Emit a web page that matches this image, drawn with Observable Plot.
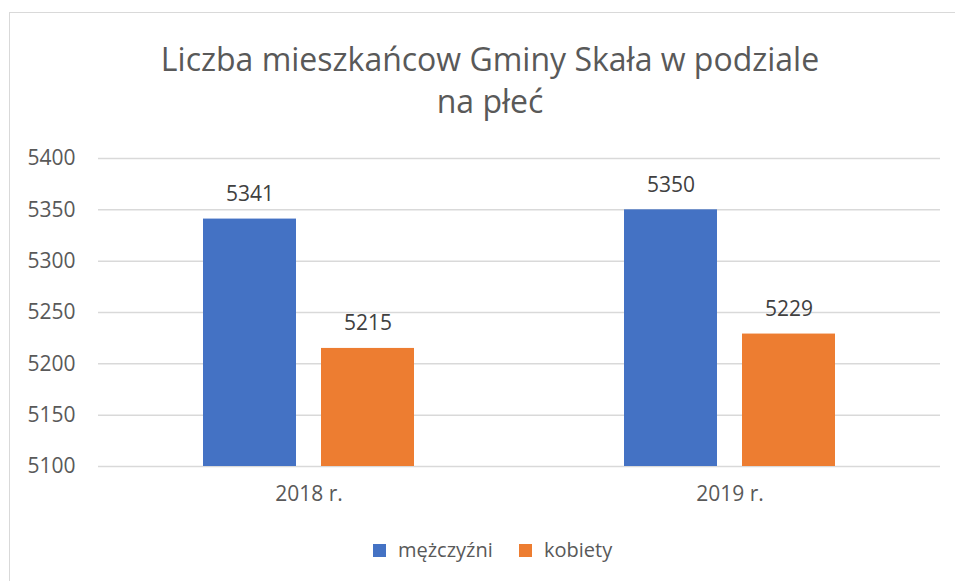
<!DOCTYPE html>
<html><head><meta charset="utf-8">
<script src="https://cdn.jsdelivr.net/npm/d3@7"></script>
<script src="https://cdn.jsdelivr.net/npm/@observablehq/plot@0.6"></script>
<style>
body{margin:0;background:#fff;font-family:"Open Sans",sans-serif;}
#wrap{position:relative;width:955px;height:581px;overflow:hidden;background:#fff;}
#frame{position:absolute;left:9px;top:12px;width:1000px;height:1000px;border:1px solid #d9d9d9;box-sizing:border-box;}
#title{position:absolute;left:0;width:980px;top:38px;text-align:center;font-size:32px;line-height:42px;color:#595959;}
#chart{position:absolute;left:0;top:0;}
.sw{position:absolute;width:13px;height:13px;top:544px;}
.lt{position:absolute;top:536px;font-size:20px;line-height:28px;color:#595959;}
</style></head>
<body>
<div id="wrap">
  <div id="frame"></div>
  <div id="chart"></div>
  <div id="title">Liczba mieszkańcow Gminy Skała w podziale<br>na płeć</div>
  <div id="legend"></div>
</div>
<script>
const years = ["2018 r.", "2019 r."];
const series = ["mężczyźni", "kobiety"];
const men = [5341, 5350];
const women = [5215, 5229];
const yTicks = [5100, 5150, 5200, 5250, 5300, 5350, 5400];
const colors = ["#4472c4", "#ed7d31"];

const data = years.flatMap((y, i) => [
  {year: y, series: series[0], value: men[i]},
  {year: y, series: series[1], value: women[i]}
]);

const chart = Plot.plot({
  width: 955, height: 581,
  marginTop: 158, marginBottom: 115, marginLeft: 98, marginRight: 15,
  style: {fontFamily: "Open Sans", fontSize: "21px", color: "#595959", background: "transparent", overflow: "visible"},
  fx: {domain: years, padding: 0, label: null, axis: "bottom", tickSize: 0, tickPadding: 20},
  x: {domain: series, axis: null, paddingInner: 0.21, paddingOuter: 0.874},
  y: {domain: [5100, 5400], ticks: yTicks, tickFormat: "d", label: null, tickSize: 0, tickPadding: 23},
  color: {domain: series, range: colors},
  marks: [
    Plot.ruleY(yTicks, {stroke: "#d9d9d9", strokeWidth: 1.5}),
    Plot.barY(data, {fx: "year", x: "series", y1: 5100, y2: "value", fill: "series"}),
    Plot.text(data, {fx: "year", x: "series", y: "value", text: d => String(d.value), dy: -25, fill: "#404040", fontSize: 21})
  ]
});
document.getElementById("chart").appendChild(chart);

const legend = document.getElementById("legend");
const lx = [[373, 398], [519, 544]];
series.forEach((s, i) => {
  const sw = document.createElement("div");
  sw.className = "sw"; sw.style.left = lx[i][0] + "px"; sw.style.background = colors[i];
  const t = document.createElement("div");
  t.className = "lt"; t.style.left = lx[i][1] + "px"; t.textContent = s;
  legend.appendChild(sw); legend.appendChild(t);
});
</script>
</body></html>
